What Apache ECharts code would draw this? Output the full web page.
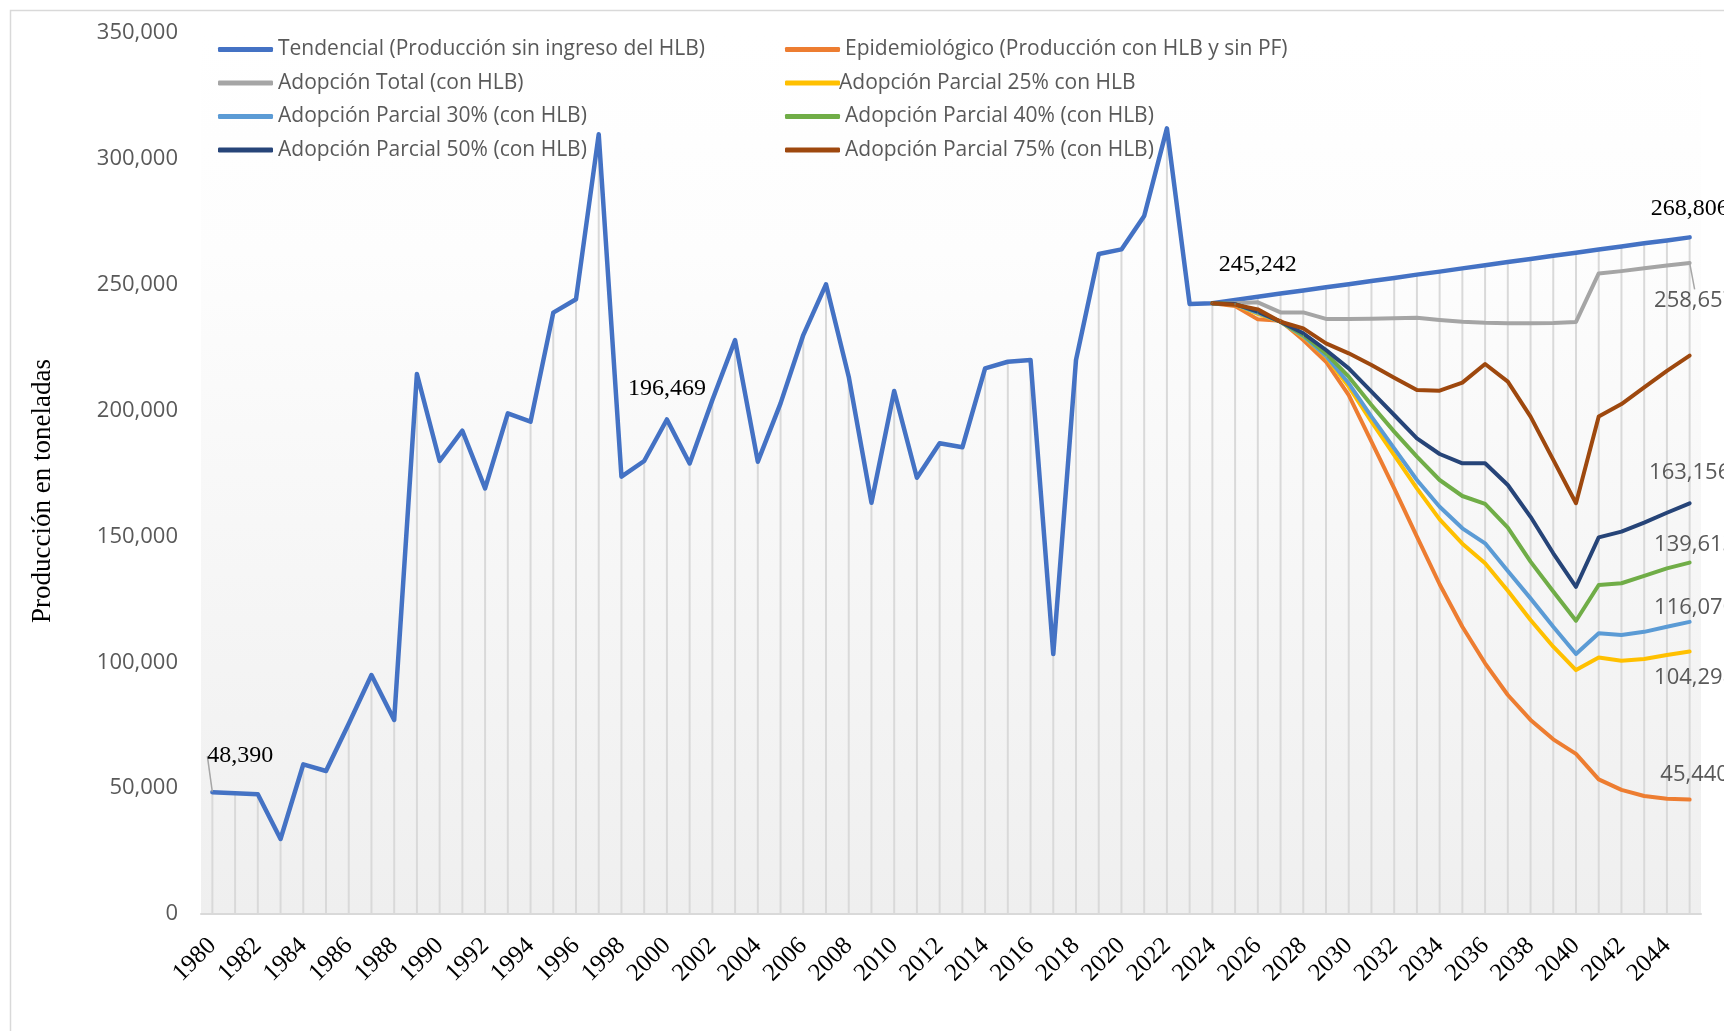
<!DOCTYPE html>
<html>
<head>
<meta charset="utf-8">
<script src="https://cdn.jsdelivr.net/npm/echarts@6/dist/echarts.min.js"></script>
<style>
html,body{margin:0;padding:0;background:#fff;}
#c{width:1724px;height:1031px;}
</style>
</head>
<body>
<div id="c"></div>
<script>
// ---- categories (years) ----
const years = ['1980','1981','1982','1983','1984','1985','1986','1987','1988','1989',
'1990','1991','1992','1993','1994','1995','1996','1997','1998','1999',
'2000','2001','2002','2003','2004','2005','2006','2007','2008','2009',
'2010','2011','2012','2013','2014','2015','2016','2017','2018','2019',
'2020','2021','2022','2023','2024','2025','2026','2027','2028','2029',
'2030','2031','2032','2033','2034','2035','2036','2037','2038','2039',
'2040','2041','2042','2043','2044','2045'];

// ---- Tendencial (1980-2045) ----
const tendencial = [48390, 47950, 47550, 29800, 59450, 56800, 75600, 94950, 77070, 214530,
179960, 192000, 169100, 198900, 195600, 238900, 244200, 309750, 173730, 179960,
196469, 179000, 204200, 228000, 179700, 202850, 230000, 250150, 213460, 163400,
207770, 173300, 187000, 185400, 216750, 219400, 220100, 103300, 220100, 262200,
264030, 277300, 312130, 242330, 242600, 243900, 245242, 246500, 247700, 249000,
250200, 251500, 252700, 254000, 255200, 256500, 257700, 259000, 260200, 261500,
262700, 264000, 265200, 266500, 267600, 268806];

// ---- scenarios, years 2024-2045 ----
const projStart = '2024';
const epidemiologico = [242600, 241540, 236240, 235700, 228030, 219420, 206180, 187640, 169110, 149890, 131000, 114100, 99600, 87000, 77100, 69400, 63600, 53500, 49300, 46900, 45800, 45440];
const adopTotal = [242600, 242600, 243000, 239000, 239000, 236400, 236400, 236500, 236700, 236900, 236000, 235300, 234900, 234700, 234700, 234800, 235200, 254500, 255400, 256500, 257600, 258657];
const parcial25 = [242600, 242100, 238400, 235300, 229300, 221400, 209500, 195600, 182350, 169110, 156800, 147100, 139320, 128400, 116800, 106200, 96900, 101900, 100600, 101300, 102900, 104298];
const parcial30 = [242600, 242200, 238800, 235300, 229600, 221680, 210820, 197580, 185000, 172420, 161800, 153220, 147260, 136300, 125400, 114100, 103300, 111500, 110800, 112100, 114100, 116070];
const parcial40 = [242600, 242300, 239300, 235300, 230000, 222740, 213460, 202210, 191620, 181690, 172420, 166060, 162900, 153500, 140000, 128100, 116500, 130700, 131400, 134300, 137300, 139613];
const parcial50 = [242600, 242300, 239300, 235300, 230700, 224060, 216780, 207500, 198240, 188980, 182750, 179050, 179050, 170430, 157800, 143300, 130000, 149600, 151900, 155500, 159400, 163156];
const parcial75 = [242600, 242060, 240200, 235300, 232670, 226700, 222740, 218100, 213060, 208170, 207900, 211100, 218500, 211500, 197600, 180400, 163200, 197600, 202600, 209200, 215800, 221800];

const names = {
  tend: 'Tendencial (Producción sin ingreso del HLB)',
  epi: 'Epidemiológico (Producción con HLB y sin PF)',
  total: 'Adopción Total (con HLB)',
  p25: 'Adopción Parcial 25% con HLB',
  p30: 'Adopción Parcial 30% (con HLB)',
  p40: 'Adopción Parcial 40% (con HLB)',
  p50: 'Adopción Parcial 50% (con HLB)',
  p75: 'Adopción Parcial 75% (con HLB)'
};
const yTitle = 'Producción en toneladas';

const SANS = '"Open Sans", "Noto Sans", sans-serif';
const SERIF = '"Liberation Serif", "DejaVu Serif", serif';
const fmt = p => Number(p.value).toLocaleString('en-US');

const serifLabel = {show: true, fontFamily: SERIF, fontSize: 24, color: '#000', formatter: fmt};
const sansLabel = {show: true, fontFamily: SANS, fontSize: 22, color: '#595959', formatter: fmt};

const startIdx = years.indexOf(projStart);
function pad(arr) {
  const out = [];
  for (let i = 0; i < startIdx; i++) out.push(null);
  return out.concat(arr);
}
function build(values, labelMap) {
  return values.map((v, i) => {
    if (v == null) return null;
    const lab = labelMap[i];
    if (!lab) return v;
    const item = {value: v, label: lab};
    if (lab.__line) {
      item.labelLine = {show: true, lineStyle: {color: '#a6a6a6', width: 1.5}};
      delete lab.__line;
    }
    return item;
  });
}
const last = years.length - 1;

function lineSeries(name, color, data, width, layout) {
  const s = {
    name: name, type: 'line', data: data,
    symbol: 'circle', symbolSize: 1, showSymbol: true, showAllSymbol: true,
    itemStyle: {color: color},
    lineStyle: {color: color, width: width, cap: 'round', join: 'round'},
    label: {show: false},
    emphasis: {disabled: true},
    silent: true, z: 3
  };
  if (layout) s.labelLayout = layout;
  return s;
}

const tendData = build(tendencial, {
  0: Object.assign({}, serifLabel, {position: 'top', distance: 5, __line: true}),
  20: Object.assign({}, serifLabel, {position: 'top', distance: 18}),
  46: Object.assign({}, serifLabel, {position: 'top', distance: 19}),
  [last]: Object.assign({}, serifLabel, {position: 'top', distance: 16})
});
const totalData = build(pad(adopTotal), {
  [last]: Object.assign({}, sansLabel, {position: 'bottom', distance: 5, __line: true})
});
const p50Data = build(pad(parcial50), {[last]: Object.assign({}, sansLabel, {position: 'top', distance: 19})});
const p40Data = build(pad(parcial40), {[last]: Object.assign({}, sansLabel, {position: 'top', distance: 6, offset: [5, 0]})});
const p30Data = build(pad(parcial30), {[last]: Object.assign({}, sansLabel, {position: 'top', distance: 3, offset: [5, 0]})});
const p25Data = build(pad(parcial25), {[last]: Object.assign({}, sansLabel, {position: 'bottom', distance: 15, offset: [5, 0]})});
const epiData = build(pad(epidemiologico), {[last]: Object.assign({}, sansLabel, {position: 'top', distance: 13, offset: [5, 0]})});
const p75Data = build(pad(parcial75), {});

const chart = echarts.init(document.getElementById('c'), null, {renderer: 'canvas'});

const legendText = {fontFamily: SANS, fontSize: 21, color: '#595959', lineHeight: 21};
const legendCommon = {
  orient: 'vertical', itemWidth: 55, itemHeight: 5, itemGap: 12.5,
  icon: 'roundRect', textStyle: legendText, selectedMode: false, top: 34
};

chart.setOption({
  animation: false,
  backgroundColor: '#fff',
  graphic: [{
    type: 'rect', left: 8, top: 8, silent: true, z: -10,
    shape: {width: 1900, height: 1200},
    style: {fill: 'none', stroke: '#d9d9d9', lineWidth: 1.5}
  }, {
    type: 'text', x: 43, y: 491, rotation: Math.PI / 2, silent: true,
    style: {text: yTitle, fill: '#000', font: '27px ' + SERIF, align: 'center', verticalAlign: 'middle'}
  }],
  grid: {
    left: 201, right: 23, top: 33, bottom: 117, show: true, borderWidth: 0,
    backgroundColor: new echarts.graphic.LinearGradient(0, 0, 0, 1, [
      {offset: 0, color: '#ffffff'},
      {offset: 0.25, color: '#fdfdfd'},
      {offset: 0.5, color: '#f8f8f8'},
      {offset: 1, color: '#efefef'}
    ])
  },
  legend: [
    Object.assign({}, legendCommon, {left: 213, data: [names.tend, names.total, names.p30, names.p50]}),
    Object.assign({}, legendCommon, {left: 780, data: [
      {name: names.epi},
      {name: names.p25, textStyle: {padding: [0, 0, 0, -6]}},
      {name: names.p40},
      {name: names.p75}
    ]})
  ],
  xAxis: {
    type: 'category', data: years, boundaryGap: true,
    axisLine: {show: true, lineStyle: {color: '#d9d9d9', width: 2}},
    axisTick: {show: false},
    axisLabel: {interval: 1, rotate: 45, fontFamily: SERIF, fontSize: 25, color: '#000', margin: 28}
  },
  yAxis: {
    type: 'value', min: 0, max: 350000, interval: 50000,
    axisLine: {show: false}, axisTick: {show: false}, splitLine: {show: false},
    axisLabel: {fontFamily: SANS, fontSize: 22, color: '#595959', margin: 23}
  },
  series: [
    {name: 'drop', type: 'bar', data: tendencial, barWidth: 2, silent: true, z: 1,
     itemStyle: {color: '#d9d9d9'}, emphasis: {disabled: true}},
    lineSeries(names.tend, '#4472C4', tendData, 4.5, function (p) {
      if (p.dataIndex === 0) {
        return {
          x: p.rect.x + p.rect.width / 2 + 28,
          y: p.rect.y + p.rect.height / 2 - 36,
          align: 'center', verticalAlign: 'middle'
        };
      }
    }),
    lineSeries(names.epi, '#ED7D31', epiData, 4),
    lineSeries(names.total, '#A5A5A5', totalData, 4, function (p) {
      if (p.dataIndex === last) return {dx: 5, dy: 21};
    }),
    lineSeries(names.p25, '#FFC000', p25Data, 4),
    lineSeries(names.p30, '#5B9BD5', p30Data, 4),
    lineSeries(names.p40, '#70AD47', p40Data, 4),
    lineSeries(names.p50, '#264478', p50Data, 4),
    lineSeries(names.p75, '#9E480E', p75Data, 4)
  ]
});
</script>
</body>
</html>
